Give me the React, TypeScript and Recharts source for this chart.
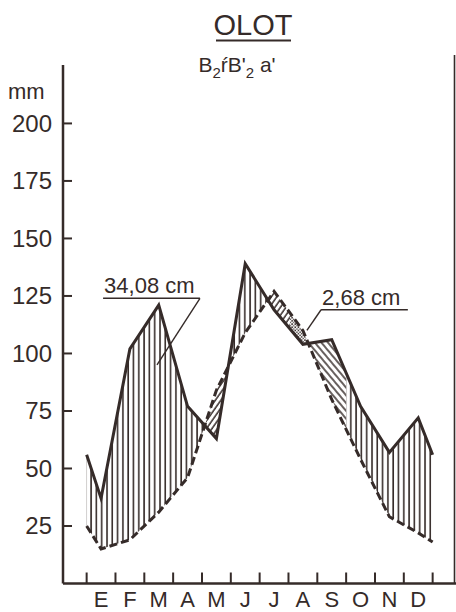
import { ComposedChart, Area, Line, XAxis, YAxis, ReferenceLine } from 'recharts';

const months = ['E', 'F', 'M', 'A', 'M', 'J', 'J', 'A', 'S', 'O', 'N', 'D'];
// precipitación media mensual (mm)
const precip = [37, 102, 121, 77, 63, 139, 119, 104, 106, 77, 57, 72];
// evapotranspiración potencial (mm)
const etp = [15, 19, 31, 46, 84, 109, 127, 110, 80, 54, 29, 22];
// valores en los bordes izquierdo / derecho del gráfico
const precipEdges = [56, 56];
const etpEdges = [25, 18];
const yTicks = [25, 50, 75, 100, 125, 150, 175, 200];

// reserva agotada / reserva completa (posición en meses)
const reserveEmptyAt = 7.05;
const reserveFullAt = 9.0;
// trama de cada tramo entre cortes: exceso, utilización, déficit, recarga
const zonePatterns = ['surplus', 'use', 'surplus', 'use', 'deficit', 'recharge', 'surplus'];

const surplusLabel = '34,08 cm';
const deficitLabel = '2,68 cm';

const ink = '#352b29';
const font = '"Liberation Sans", Arial, sans-serif';

const W = 456;
const H = 612;
const X_MIN = -0.82;
const X_MAX = 12.81;
const Y_MAX = 225.4;

// puntos de las curvas: borde, centro de cada mes, borde
const xs = [0, ...months.map((_, i) => i + 0.5), 12];
const pVals = [precipEdges[0], ...precip, precipEdges[1]];
const eVals = [etpEdges[0], ...etp, etpEdges[1]];

const valueAt = (vals: number[], x: number) => {
  for (let i = 0; i < xs.length - 1; i++) {
    if (x >= xs[i] && x <= xs[i + 1]) {
      const t = (x - xs[i]) / (xs[i + 1] - xs[i]);
      return vals[i] + t * (vals[i + 1] - vals[i]);
    }
  }
  return vals[vals.length - 1];
};

// cortes entre precipitación y ETP
const crossings: number[] = [];
for (let i = 0; i < xs.length - 1; i++) {
  const d0 = pVals[i] - eVals[i];
  const d1 = pVals[i + 1] - eVals[i + 1];
  if (d0 * d1 < 0) crossings.push(xs[i] + (d0 / (d0 - d1)) * (xs[i + 1] - xs[i]));
}

const bounds = [0, ...crossings, reserveEmptyAt, reserveFullAt, 12].sort((a, b) => a - b);
const zones = zonePatterns.map((pattern, k) => ({ pattern, from: bounds[k], to: bounds[k + 1] }));

const rowXs = Array.from(new Set([...xs, ...bounds])).sort((a, b) => a - b);
const rows = rowXs.map((x) => {
  const idx = xs.indexOf(x);
  const pv = valueAt(pVals, x);
  const ev = valueAt(eVals, x);
  const bands = zones.map((z) =>
    x >= z.from - 1e-9 && x <= z.to + 1e-9 ? [Math.min(pv, ev), Math.max(pv, ev)] : undefined
  );
  return {
    x,
    p: idx >= 0 ? pVals[idx] : undefined,
    e: idx >= 0 ? eVals[idx] : undefined,
    bands,
  };
});

const xTicks = Array.from({ length: 25 }, (_, i) => i / 2);

const MonthTick = ({ x, y, payload }: any) => {
  const v = payload.value;
  if (Number.isInteger(v)) {
    return <line x1={x} x2={x} y1={y - 11} y2={y} stroke={ink} strokeWidth={2} />;
  }
  return (
    <text x={x} y={y + 23} textAnchor="middle" fontSize={22} fill={ink} fontFamily={font}>
      {months[Math.floor(v)]}
    </text>
  );
};

const MmTick = ({ x, y, payload }: any) => (
  <g>
    <line x1={x + 11} x2={x + 20} y1={y} y2={y} stroke={ink} strokeWidth={2} />
    <text x={x} y={y + 8.5} textAnchor="end" fontSize={24} fill={ink} fontFamily={font}>
      {payload.value}
    </text>
  </g>
);

const noteLabel = (text: string) => (props: any) => {
  const { viewBox } = props;
  return (
    <text x={viewBox.x + 1} y={viewBox.y - 5} fontSize={22} fill={ink} fontFamily={font}>
      {text}
    </text>
  );
};

export default function App() {
  return (
    <div style={{ position: 'absolute', left: 0, top: 0, width: W, height: H, background: '#fff' }}>
      <ComposedChart
        width={W}
        height={H}
        data={rows}
        margin={{ top: 65, right: 0, bottom: 0, left: 0 }}
        style={{ position: 'absolute', left: 0, top: 0 }}
      >
        <defs>
          <pattern id="surplus" width={5.3} height={10} patternUnits="userSpaceOnUse">
            <line x1={1} x2={1} y1={0} y2={10} stroke={ink} strokeWidth={1.6} />
          </pattern>
          <pattern id="use" width={4.5} height={10} patternUnits="userSpaceOnUse" patternTransform="rotate(35)">
            <line x1={1} x2={1} y1={0} y2={10} stroke={ink} strokeWidth={1.5} />
          </pattern>
          <pattern id="recharge" width={5} height={10} patternUnits="userSpaceOnUse" patternTransform="rotate(-40)">
            <line x1={1} x2={1} y1={0} y2={10} stroke={ink} strokeWidth={1.5} />
          </pattern>
          <pattern id="deficit" width={3.2} height={3.2} patternUnits="userSpaceOnUse">
            <circle cx={0.9} cy={0.9} r={0.85} fill={ink} />
            <circle cx={2.5} cy={2.5} r={0.75} fill={ink} />
          </pattern>
        </defs>
        <XAxis
          dataKey="x"
          type="number"
          domain={[X_MIN, X_MAX]}
          allowDataOverflow
          ticks={xTicks}
          interval={0}
          tick={<MonthTick />}
          tickLine={false}
          tickSize={0}
          tickMargin={0}
          height={28.5}
          axisLine={{ stroke: ink, strokeWidth: 2.5 }}
        />
        <YAxis
          type="number"
          domain={[0, Y_MAX]}
          allowDataOverflow
          ticks={yTicks}
          interval={0}
          tick={<MmTick />}
          tickLine={false}
          tickSize={0}
          tickMargin={11}
          width={63}
          axisLine={{ stroke: ink, strokeWidth: 2.5 }}
        />
        {zones.map((z, k) => (
          <Area
            key={k}
            type="linear"
            dataKey={(r: any) => r.bands[k]}
            fill={`url(#${z.pattern})`}
            fillOpacity={1}
            stroke="none"
            dot={false}
            activeDot={false}
            isAnimationActive={false}
          />
        ))}
        <Line
          type="linear"
          dataKey="e"
          stroke={ink}
          strokeWidth={3}
          strokeDasharray="8 4"
          dot={false}
          activeDot={false}
          connectNulls
          isAnimationActive={false}
        />
        <Line
          type="linear"
          dataKey="p"
          stroke={ink}
          strokeWidth={3}
          dot={false}
          activeDot={false}
          connectNulls
          isAnimationActive={false}
        />
        {/* rótulo del exceso */}
        <ReferenceLine
          segment={[{ x: 0.57, y: 124 }, { x: 3.93, y: 124 }]}
          stroke={ink}
          strokeWidth={1.4}
          label={noteLabel(surplusLabel)}
        />
        <ReferenceLine segment={[{ x: 3.93, y: 124 }, { x: 2.44, y: 95 }]} stroke={ink} strokeWidth={1.4} />
        {/* rótulo del déficit */}
        <ReferenceLine
          segment={[{ x: 8.13, y: 119 }, { x: 11.14, y: 119 }]}
          stroke={ink}
          strokeWidth={1.4}
          label={noteLabel(deficitLabel)}
        />
        <ReferenceLine segment={[{ x: 8.13, y: 119 }, { x: 7.64, y: 110 }]} stroke={ink} strokeWidth={1.4} />
      </ComposedChart>
      <svg
        width={W}
        height={H}
        style={{ position: 'absolute', left: 0, top: 0, pointerEvents: 'none' }}
        fontFamily={font}
        fill={ink}
      >
        <text x={253} y={35} textAnchor="middle" fontSize={29}>
          OLOT
        </text>
        <line x1={216} x2={291} y1={40.5} y2={40.5} stroke={ink} strokeWidth={2} />
        <text x={237} y={72} textAnchor="middle" fontSize={21}>
          B<tspan fontSize={15} dy={6}>2</tspan>
          <tspan dy={-6}>ŕB'</tspan>
          <tspan fontSize={15} dy={6}>2</tspan>
          <tspan dy={-6}> a'</tspan>
        </text>
        <text x={8} y={99} fontSize={22}>
          mm
        </text>
        <line x1={454.5} x2={454.5} y1={55} y2={583} stroke={ink} strokeWidth={1.6} />
      </svg>
    </div>
  );
}
